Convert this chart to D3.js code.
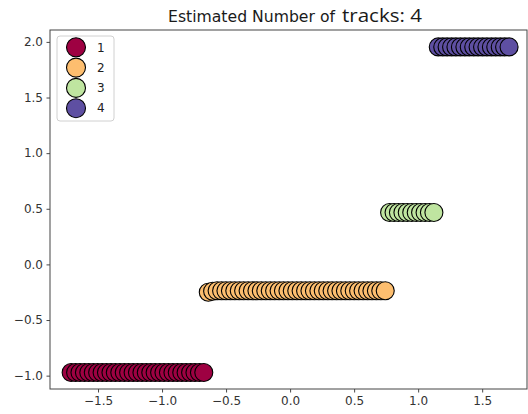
<!DOCTYPE html>
<html>
<head>
<meta charset="utf-8">
<script src="https://d3js.org/d3.v7.min.js"></script>
<style>
  body { margin: 0; background: #fff; }
  svg { display: block; font-family: "DejaVu Sans", sans-serif; }
</style>
</head>
<body>
<svg></svg>
<script>
// cluster labels, colours (Spectral, 4 steps)
const labels = ["1", "2", "3", "4"];
const colors = ["#9e0142", "#fdbe6f", "#bfe5a0", "#5e4fa2"];

// x positions of each cluster's points
const x1 = [-1.710, -1.675, -1.641, -1.606, -1.572, -1.537, -1.503, -1.468, -1.434, -1.399,
            -1.365, -1.330, -1.295, -1.261, -1.226, -1.192, -1.157, -1.123, -1.088, -1.054,
            -1.019, -0.985, -0.950, -0.915, -0.881, -0.846, -0.812, -0.777, -0.743, -0.708, -0.674];
const x2 = [-0.639, -0.605, -0.570, -0.535, -0.501, -0.466, -0.432, -0.397, -0.363, -0.328,
            -0.294, -0.259, -0.225, -0.190, -0.155, -0.121, -0.086, -0.052, -0.017, 0.017,
            0.052, 0.086, 0.121, 0.155, 0.190, 0.225, 0.259, 0.294, 0.328, 0.363,
            0.397, 0.432, 0.466, 0.501, 0.535, 0.570, 0.605, 0.639, 0.674, 0.708, 0.743];
const x3 = [0.777, 0.812, 0.846, 0.881, 0.915, 0.950, 0.985, 1.019, 1.054, 1.088, 1.123];
const x4 = [1.157, 1.192, 1.226, 1.261, 1.295, 1.330, 1.365, 1.399, 1.434, 1.468,
            1.503, 1.537, 1.572, 1.606, 1.641, 1.675, 1.710];

// y value of each cluster (first points of cluster 2 sit a little lower)
const y1 = [-0.972];
const y2 = [-0.25, -0.242, -0.237];
const y3 = [0.466];
const y4 = [1.955];

const xTicks = [-1.5, -1.0, -0.5, 0.0, 0.5, 1.0, 1.5];
const yTicks = [-1.0, -0.5, 0.0, 0.5, 1.0, 1.5, 2.0];

const width = 528, height = 414;
const svg = d3.select("svg").attr("width", width).attr("height", height);

const x = d3.scaleLinear().domain([-1.875, 1.85]).range([50, 527]);
const y = d3.scaleLinear().domain([-1.12, 2.107]).range([389, 30]);

// build points: y per cluster, last listed y value repeats
function pts(xs, ys, k) {
  return xs.map((v, i) => ({ x: v, y: ys[Math.min(i, ys.length - 1)], k: k }));
}
const points = [].concat(pts(x1, y1, 0), pts(x2, y2, 1), pts(x3, y3, 2), pts(x4, y4, 3));

// scatter
svg.append("g")
  .selectAll("circle")
  .data(points)
  .join("circle")
  .attr("cx", d => x(d.x))
  .attr("cy", d => y(d.y))
  .attr("r", 9)
  .attr("fill", d => colors[d.k])
  .attr("stroke", "#000")
  .attr("stroke-width", 1.1);

// axes
const fmt = d => d3.format(".1f")(d).replace("-", "\u2212");
const xAxis = svg.append("g")
  .attr("transform", "translate(0,389)")
  .call(d3.axisBottom(x).tickValues(xTicks).tickSize(3.5).tickPadding(3.5).tickFormat(fmt));
const yAxis = svg.append("g")
  .attr("transform", "translate(50,0)")
  .call(d3.axisLeft(y).tickValues(yTicks).tickSize(3.5).tickPadding(3.5).tickFormat(fmt));
[xAxis, yAxis].forEach(a => {
  a.select(".domain").remove();
  a.selectAll("line").attr("stroke", "#333").attr("stroke-width", 0.9);
  a.selectAll("text").attr("fill", "#333").style("font-size", "12px")
    .style("font-family", "DejaVu Sans");
});

// frame
svg.append("rect")
  .attr("x", 50).attr("y", 30)
  .attr("width", 477).attr("height", 359)
  .attr("fill", "none")
  .attr("stroke", "#444")
  .attr("stroke-width", 1);

// title
const title = svg.append("text")
  .attr("y", 22)
  .attr("fill", "#1a1a1a");
title.append("tspan")
  .attr("x", 168)
  .style("font-family", "DejaVu Sans")
  .style("font-size", "15.5px")
  .attr("textLength", 167)
  .attr("lengthAdjust", "spacingAndGlyphs")
  .text("Estimated Number of");
title.append("tspan")
  .attr("x", 342)
  .style("font-family", "Open Sans")
  .style("font-size", "19px")
  .attr("textLength", 80)
  .attr("lengthAdjust", "spacingAndGlyphs")
  .text("tracks: 4");

// legend
const legend = svg.append("g");
legend.append("rect")
  .attr("x", 57).attr("y", 36)
  .attr("width", 57).attr("height", 85)
  .attr("rx", 3)
  .attr("fill", "#fff")
  .attr("fill-opacity", 0.8)
  .attr("stroke", "#d0d0d0");
const items = legend.selectAll("g.item")
  .data(labels)
  .join("g")
  .attr("transform", (d, i) => `translate(0,${47.3 + i * 20.3})`);
items.append("circle")
  .attr("cx", 76).attr("r", 9.5)
  .attr("fill", (d, i) => colors[i])
  .attr("stroke", "#000")
  .attr("stroke-width", 1.1);
items.append("text")
  .attr("x", 97).attr("dy", "0.35em")
  .attr("fill", "#222")
  .style("font-size", "12px")
  .text(d => d);
</script>
</body>
</html>
